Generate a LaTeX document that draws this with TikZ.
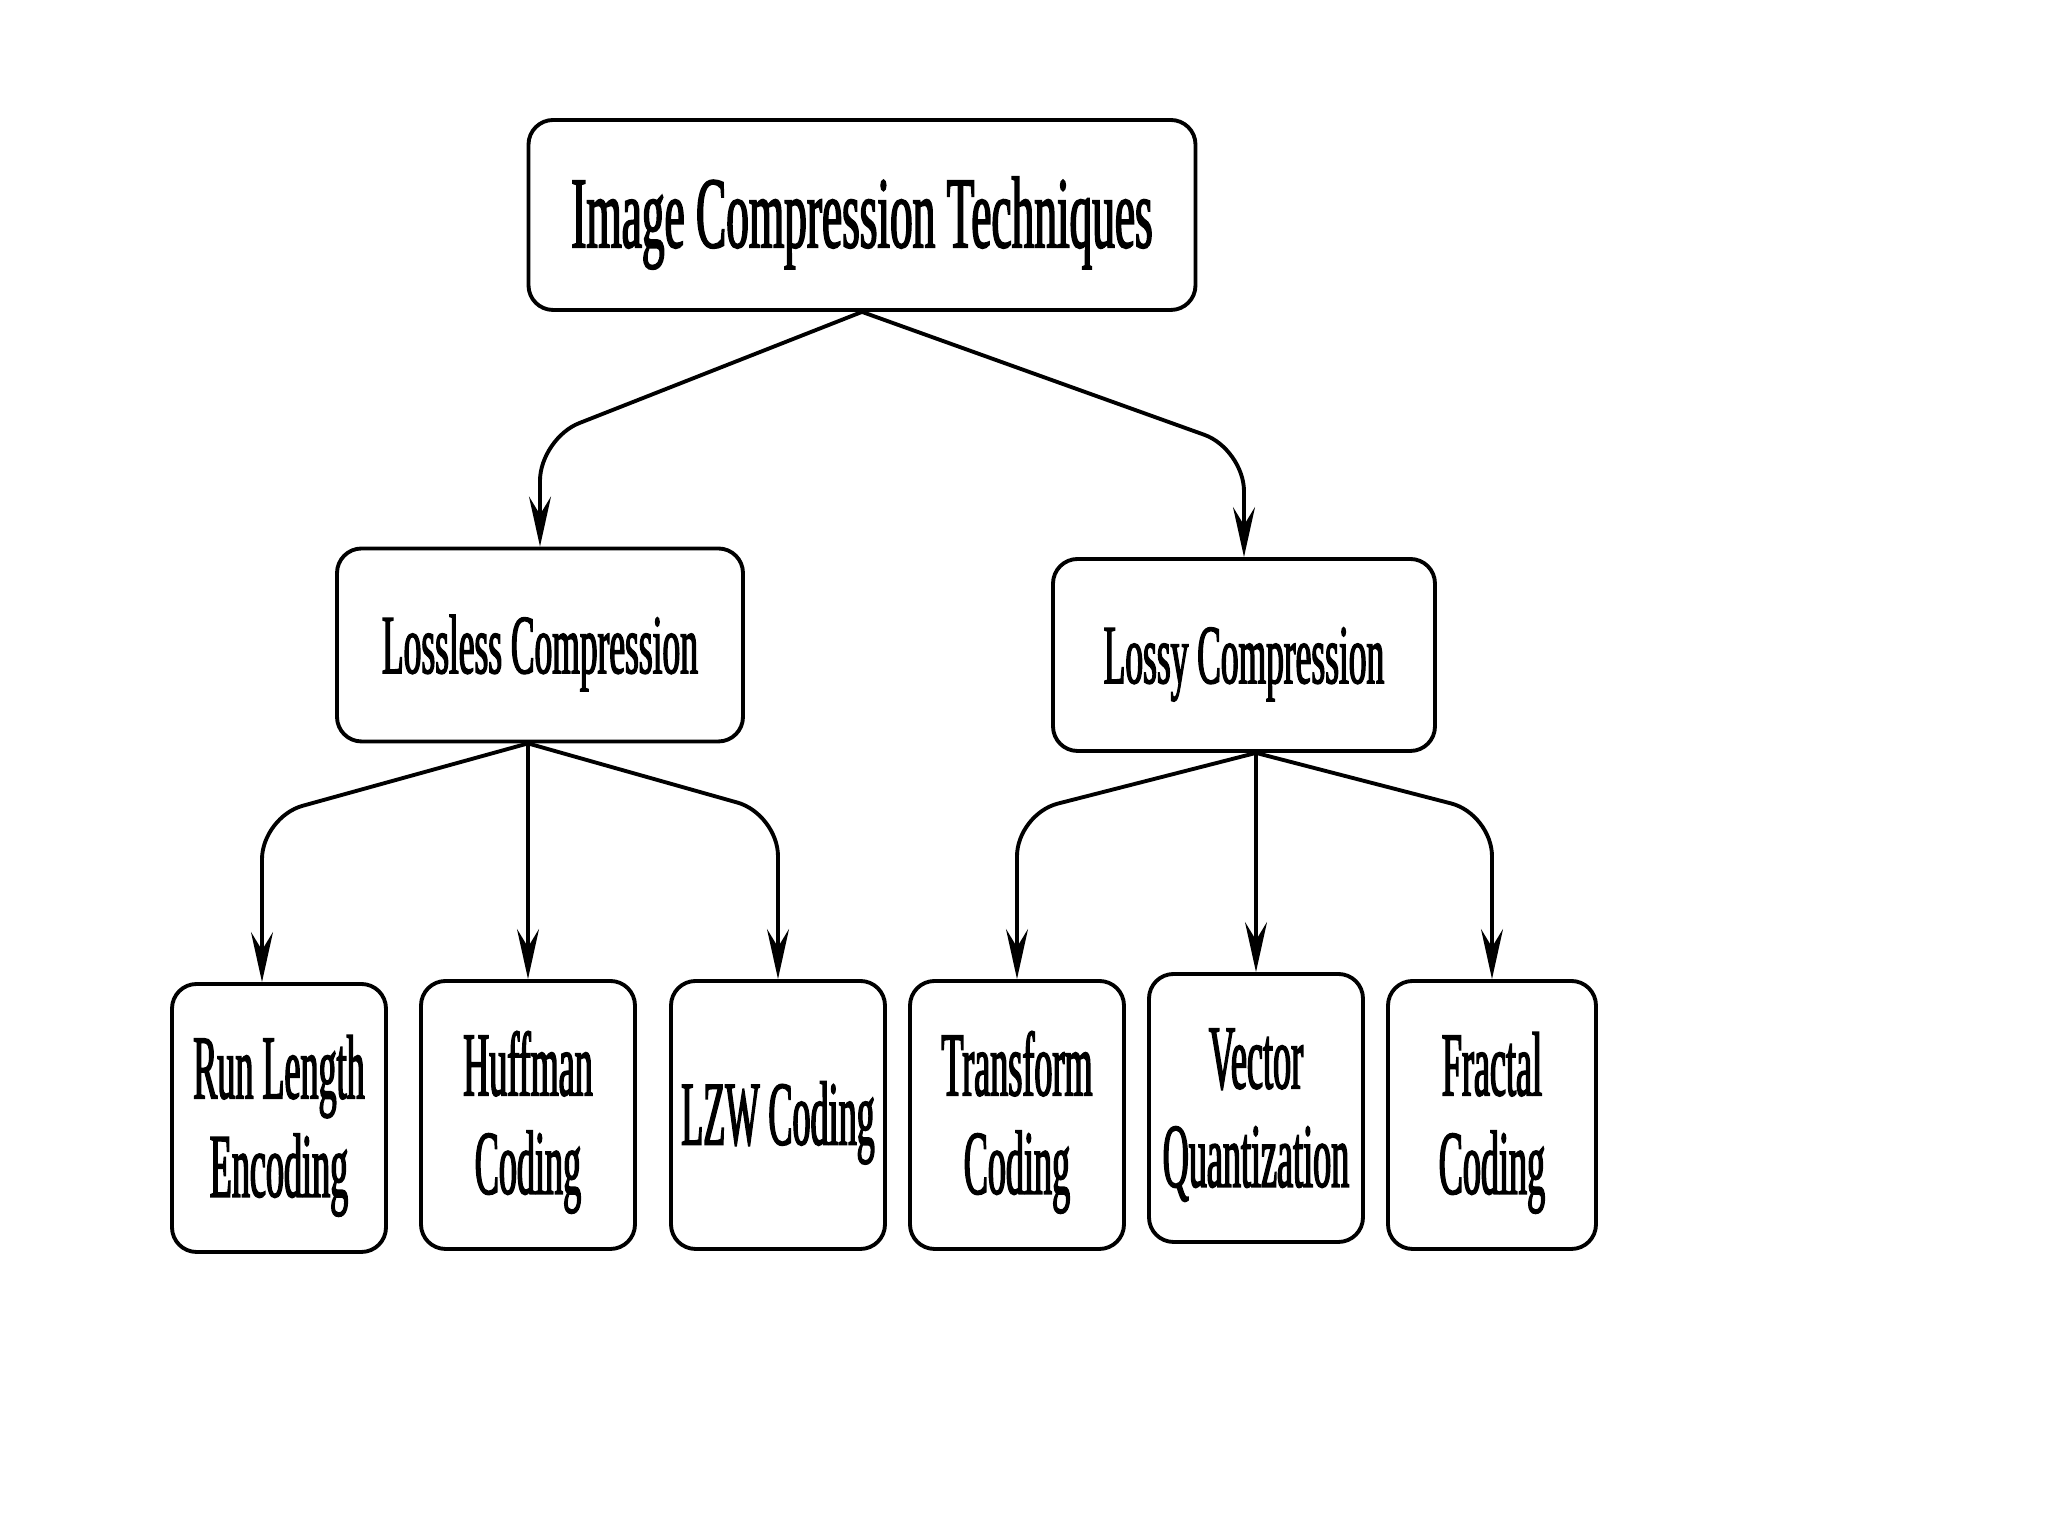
\documentclass[tikz,border=0pt]{standalone}
\usepackage{fontspec}
\setmainfont[FakeStretch=0.42,FakeBold=1.5]{Liberation Serif}
\newfontfamily\topfont[FakeStretch=0.445,FakeBold=1.5]{Liberation Serif}
\newfontfamily\leaffont[FakeStretch=0.395,FakeBold=1.5]{Liberation Serif}
\newcommand\boxtext[1]{\raisebox{-0.1cm}[\height][\depth]{\begin{tabular}{@{}c@{}}#1\end{tabular}}}
\usetikzlibrary{arrows.meta,calc}
\begin{document}
\begin{tikzpicture}[line width=1.1pt,
  box/.style={draw, rounded corners=7pt, align=center, inner sep=0pt},
  leaf/.style={box, minimum width=2.14cm, minimum height=2.68cm, font=\leaffont\fontsize{26}{28}\selectfont},
  arr/.style={-{Stealth[length=5mm,width=2.2mm,inset=1.8mm]}, rounded corners=12pt}]
\useasboundingbox (0,0) rectangle (20.48,15.36);
\node[box, minimum width=6.67cm, minimum height=1.9cm, font=\topfont\fontsize{29}{32}\selectfont] (ict) at (8.62,13.21) {\boxtext{Image Compression Techniques}};
\node[box, minimum width=4.06cm, minimum height=1.93cm, font=\fontsize{24}{26}\selectfont] (lossless) at (5.40,8.91) {\boxtext{Lossless Compression}};
\node[box, minimum width=3.82cm, minimum height=1.92cm, font=\fontsize{24}{26}\selectfont] (lossy) at (12.44,8.81) {\boxtext{Lossy Compression}};
\node[leaf] (run) at (2.79,4.18) {\boxtext{Run Length\\Encoding}};
\node[leaf] (huffman) at (5.28,4.21) {\boxtext{Huffman\\Coding}};
\node[leaf] (lzw) at (7.78,4.21) {\boxtext{LZW Coding}};
\node[leaf] (transform) at (10.17,4.21) {\boxtext{Transform\\Coding}};
\node[leaf] (vector) at (12.56,4.28) {\boxtext{Vector\\Quantization}};
\node[leaf, minimum width=2.08cm] (fractal) at (14.92,4.21) {\boxtext{Fractal\\Coding}};
\draw[arr] (ict.south) -- ($(lossless.north)+(0,1.08)$) -- (lossless.north);
\draw[arr] (ict.south) -- ($(lossy.north)+(0,1.08)$) -- (lossy.north);
\draw[arr] (huffman.north |- lossless.south) -- ($(run.north)+(-0.17,1.65)$) -- ($(run.north)+(-0.17,0)$);
\draw[arr] (huffman.north |- lossless.south) -- (huffman.north);
\draw[arr] (huffman.north |- lossless.south) -- ($(lzw.north)+(0,1.65)$) -- (lzw.north);
\draw[arr] (vector.north |- lossy.south) -- ($(transform.north)+(0,1.65)$) -- (transform.north);
\draw[arr] (vector.north |- lossy.south) -- (vector.north);
\draw[arr] (vector.north |- lossy.south) -- ($(fractal.north)+(0,1.65)$) -- (fractal.north);
\end{tikzpicture}
\end{document}
